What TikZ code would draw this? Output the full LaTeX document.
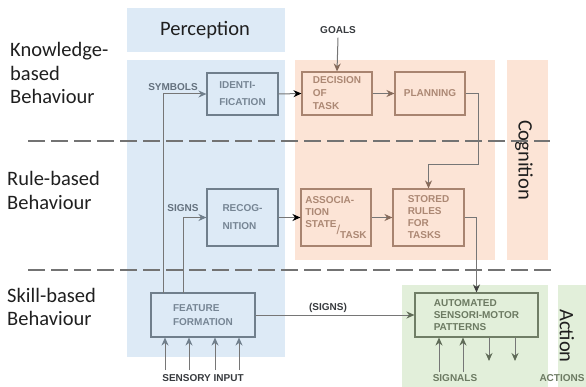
\documentclass[tikz,border=0pt]{standalone}
\usepackage{fontspec}
\setmainfont{Carlito}
\newfontfamily\boxfont{Liberation Sans}
\usetikzlibrary{arrows.meta}
\definecolor{bluebg}{RGB}{221,234,246}
\definecolor{orangebg}{RGB}{252,228,214}
\definecolor{greenbg}{RGB}{226,239,218}
\definecolor{blueline}{RGB}{112,127,140}
\definecolor{bluetext}{RGB}{118,133,148}
\definecolor{orangeline}{RGB}{168,132,112}
\definecolor{orangetext}{RGB}{172,136,116}
\definecolor{greenline}{RGB}{112,126,102}
\definecolor{greentext}{RGB}{108,122,98}
\definecolor{conn}{RGB}{118,118,118}
\definecolor{darklabel}{RGB}{55,58,62}
\definecolor{dashcol}{RGB}{115,115,115}
\begin{document}
\begin{tikzpicture}[x=1pt,y=-1pt,
  boxtxt/.style={font=\boxfont\bfseries\fontsize{10}{12}\selectfont},
  stagebox/.style={draw, line width=1.1pt, align=left, inner sep=0pt, boxtxt},
  bbox/.style={stagebox, draw=blueline, text=bluetext},
  obox/.style={stagebox, draw=orangeline, text=orangetext},
  gbox/.style={stagebox, draw=greenline, text=greentext},
  lbl/.style={boxtxt, inner sep=0pt},
  side/.style={font=\fontsize{20.5}{23.5}\selectfont, text=black!88, inner sep=0pt, anchor=base west},
  head/.style={font=\fontsize{20.5}{23.5}\selectfont, text=black!88, inner sep=0pt},
  bline/.style={draw=conn, line width=1pt, -{Stealth[length=8pt,width=7pt,fill=blueline,color=blueline]}},
  kline/.style={draw=conn, line width=1pt, -{Stealth[length=8pt,width=7pt,black]}},
  oline/.style={draw=conn, line width=1pt, -{Stealth[length=8pt,width=7pt,color=orangeline!80!black]}},
  gline/.style={draw=conn, line width=1pt, -{Stealth[length=8pt,width=7pt,color=greenline!85!black]}},
  dline/.style={draw=dashcol, line width=1.3pt, dash pattern=on 17pt off 6pt}
]
\useasboundingbox (0,0) rectangle (586,387);
% background regions
\fill[bluebg] (127,8) rectangle (285,52);
\fill[bluebg] (127,60) rectangle (285,357);
\fill[orangebg] (295,60) rectangle (495,260);
\fill[orangebg] (507,60) rectangle (548,260);
\fill[greenbg] (402,285) rectangle (548,387);
\fill[greenbg] (558,285) rectangle (586,387);

% region titles
\node[head] (perc) at (205,30) {Perception};
\node[head, rotate=-90] (cogn) at (524,160) {Cognition};
\node[head, rotate=-90] (act) at (567,336) {Action};

% side labels
\node[side] (k1) at (10,57) {Knowledge-};
\node[side] (k2) at (10,80.5) {based};
\node[side] (k3) at (10,104) {Behaviour};
\node[side] (r1) at (7,186) {Rule-based};
\node[side] (r2) at (7,209.5) {Behaviour};
\node[side] (s1) at (7,302) {Skill-based};
\node[side] (s2) at (7,325.5) {Behaviour};

% dashed separators
\coordinate (d1a) at (28,141); \coordinate (d1b) at (550,141);
\coordinate (d2a) at (28,270); \coordinate (d2b) at (552,270);
\draw[dline] (d1a) -- (d1b);
\draw[dline] (d2a) -- (d2b);

% boxes
\node[bbox, minimum width=71pt, minimum height=42pt] (id) at (242.5,94) {IDENTI-\\[5pt]FICATION};
\node[obox, minimum width=70pt, minimum height=43pt] (dec) at (337,93.5) {DECISION\\[1pt]OF\\[1pt]TASK};
\node[obox, minimum width=70pt, minimum height=43pt] (pl) at (430,93.5) {PLANNING};
\node[bbox, minimum width=71pt, minimum height=57pt] (rec) at (242.5,217.5) {RECOG-\\[6pt]NITION};
\node[obox, minimum width=70pt, minimum height=57pt] (as) at (336,217.5) {ASSOCIA-\\TION\\STATE\raisebox{-7pt}{\fontsize{13}{13}\selectfont\mdseries/}\raisebox{-11pt}{TASK}};
\node[obox, minimum width=71pt, minimum height=57pt] (sr) at (428.5,217.5) {STORED\\RULES\\FOR\\TASKS};
\node[bbox, minimum width=104pt, minimum height=44pt] (ff) at (203,315) {FEATURE\\[2pt]FORMATION};
\node[gbox, minimum width=123pt, minimum height=44pt] (au) at (476.5,315) {AUTOMATED\\SENSORI-MOTOR\\PATTERNS};

% labels
\node[lbl, text=bluetext!85!black] (sym) at (173,87) {SYMBOLS};
\node[lbl, text=bluetext!85!black] (sig) at (183,208) {SIGNS};
\node[lbl, text=darklabel] (goals) at (338,30) {GOALS};
\node[lbl, text=darklabel] (sens) at (203,378) {SENSORY INPUT};
\node[lbl, text=darklabel] (signsl) at (328,308) {(SIGNS)};
\node[lbl, text=greentext] (signals) at (455,378) {SIGNALS};
\node[lbl, text=greentext] (actions) at (562,378) {ACTIONS};

% connectors
\coordinate (c1) at (163,293);
\coordinate (c2) at (183,293);
\draw[bline] (c1) |- (id.west);
\draw[bline] (c2) |- (rec.west);
\draw[kline] (id.east) -- (dec.west);
\draw[kline] (rec.east) -- (as.west);
\draw[oline] (goals.south) ++(0,4) -- (dec.north);
\draw[oline] (dec.east) -- (pl.west);
\draw[oline] (as.east) -- (sr.west);
\coordinate (p1) at (478,165);
\draw[oline] (pl.east) -| (p1) -| (sr.north);
\draw[gline, -{Stealth[length=8pt,width=7pt,black!75]}] (sr.east) -| (au.north);
\draw[gline] (ff.east) -- (au.west);

% sensory input arrows
\foreach \i/\x in {1/165,2/189,3/215,4/239}{
  \coordinate (si\i) at (\x,370);
  \draw[bline] (si\i) -- (si\i |- ff.south);
}
% signals and actions
\foreach \i/\x in {1/439,2/463}{
  \coordinate (sg\i) at (\x,372);
  \draw[gline] (sg\i) -- (sg\i |- au.south);
}
\foreach \i/\x in {1/489,2/515}{
  \coordinate (ac\i) at (\x,361);
  \draw[gline] (ac\i |- au.south) -- (ac\i);
}
\end{tikzpicture}
\end{document}
